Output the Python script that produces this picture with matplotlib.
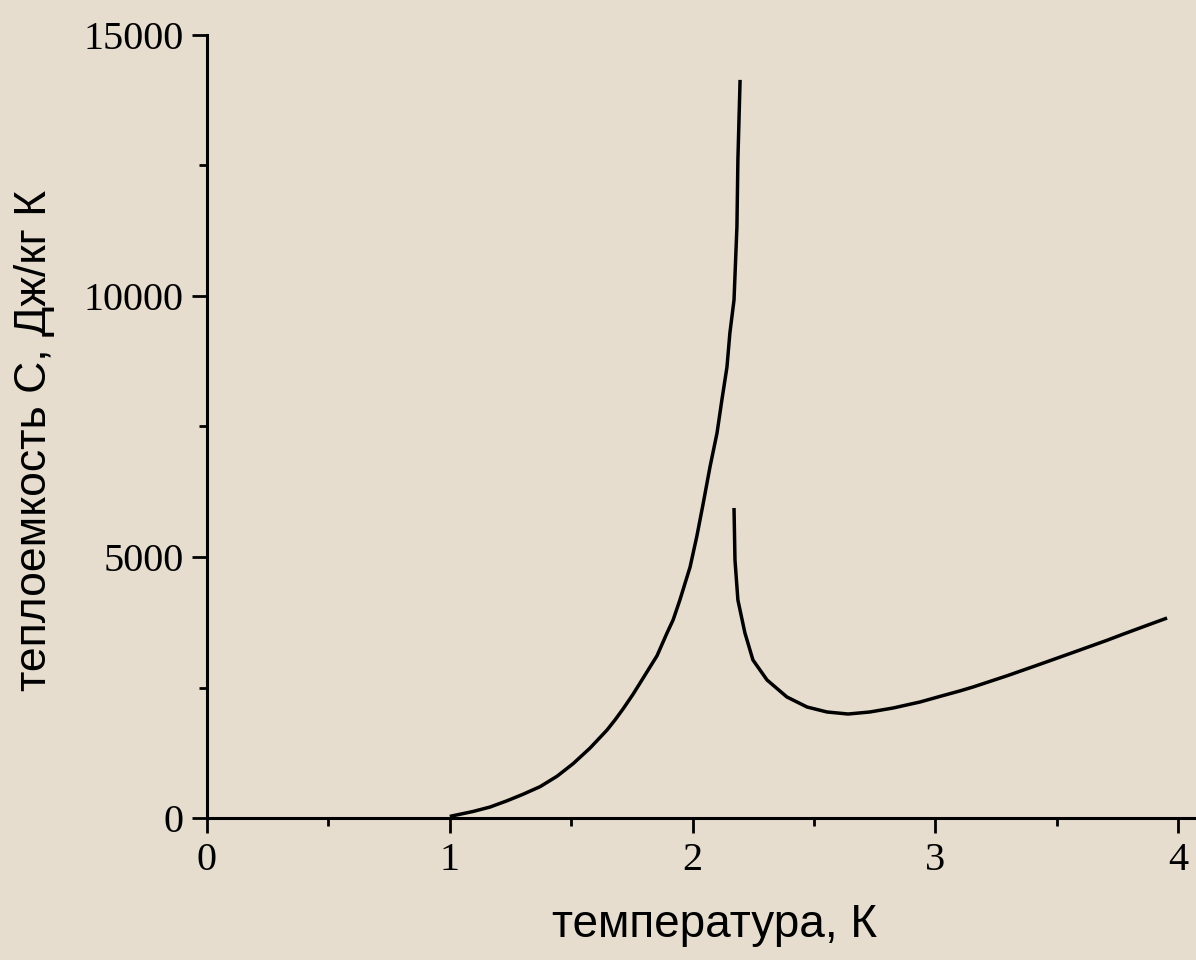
import matplotlib
matplotlib.use("Agg")
import matplotlib.pyplot as plt
import numpy as np

# heat capacity of liquid helium near the lambda point
T_below = [1.0, 1.03, 1.096, 1.166, 1.236, 1.302, 1.372, 1.442, 1.508, 1.578,
           1.648, 1.681, 1.714, 1.755, 1.784, 1.825, 1.854, 1.895, 1.92, 1.948,
           1.99, 2.018, 2.043, 2.072, 2.101, 2.121, 2.142, 2.154, 2.171,
           2.183, 2.187, 2.196]
C_below = [30, 60, 125, 210, 330, 455, 600, 800, 1040, 1340,
           1686, 1880, 2090, 2370, 2586, 2893, 3110, 3544, 3793, 4176,
           4808, 5400, 6000, 6724, 7375, 8008, 8640, 9291, 9923,
           11322, 12605, 14140]

T_above = [2.171, 2.175, 2.187, 2.216, 2.249, 2.307, 2.389, 2.472, 2.554,
           2.641, 2.731, 2.826, 2.937, 3.02, 3.102, 3.156, 3.296, 3.431,
           3.567, 3.708, 3.773, 3.872, 3.955]
C_above = [5939, 4943, 4176, 3544, 3027, 2644, 2318, 2126, 2031,
           1992, 2031, 2107, 2222, 2330, 2435, 2510, 2725, 2945,
           3170, 3405, 3520, 3690, 3831]

x_ticks = [0, 1, 2, 3, 4]
y_ticks = [0, 5000, 10000, 15000]

xlabel = 'температура, К'
ylabel = 'теплоемкость С, Дж/кг К'

bg = '#e6ddcf'

fig = plt.figure(figsize=(11.96, 9.6), dpi=100, facecolor=bg)
ax = fig.add_axes([207 / 1196, 1 - 818 / 960, 1 - 207 / 1196, (818 - 35) / 960])
ax.set_facecolor(bg)

ax.plot(T_below, C_below, color='black', lw=2.5, solid_joinstyle='round',
        solid_capstyle='butt')
ax.plot(T_above, C_above, color='black', lw=2.5, solid_joinstyle='round',
        solid_capstyle='butt')

ax.set_xlim(0, (1196 - 207) / 242.75)
ax.set_ylim(0, 15000)

for s in ['top', 'right']:
    ax.spines[s].set_visible(False)
for s in ['left', 'bottom']:
    ax.spines[s].set_linewidth(2.2)

ax.set_xticks(x_ticks)
ax.set_yticks(y_ticks)
ax.set_xticks(np.arange(0.5, 4.1, 1.0), minor=True)
ax.set_yticks([2500, 7500, 12500], minor=True)
ax.tick_params(which='major', direction='out', length=11, width=2, pad=6,
               labelsize=29, labelfontfamily='Liberation Serif')
ax.tick_params(which='minor', direction='out', length=6, width=2)

fig.text(715 / 1196, 1 - 925 / 960, xlabel, ha='center', va='center',
         fontsize=33, family='Liberation Sans')
fig.text(35 / 1196, 1 - 440 / 960, ylabel, ha='center', va='center',
         rotation=90, fontsize=32, family='Liberation Sans')

fig.savefig('out.png', dpi=100, facecolor=bg)
